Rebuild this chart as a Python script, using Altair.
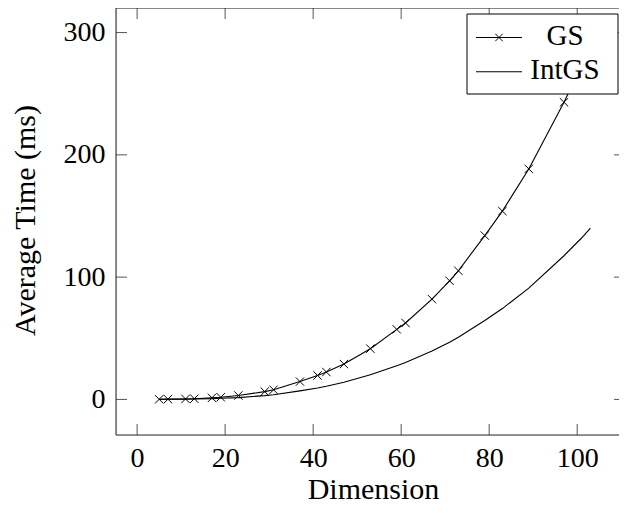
import altair as alt
import pandas as pd

# ---- data ----
dims = [5, 7, 11, 13, 17, 19, 23, 29, 31, 37, 41, 43, 47, 53, 59, 61, 67, 71, 73,
        79, 83, 89, 97, 101, 103]
gs_ms = [0.1, 0.2, 0.4, 0.6, 1.3, 1.8, 3.2, 6.4, 7.9, 14.6, 19.6, 22.4, 28.9, 41.5,
         57.3, 62.5, 82.0, 97.0, 105.2, 134.0, 154.0, 188.5, 243.0, 273.0, 291.0]
intgs_ms = [0.05, 0.1, 0.2, 0.3, 0.6, 0.9, 1.5, 3.1, 3.8, 7.0, 9.4, 10.8, 14.0, 20.1,
            27.6, 30.2, 39.6, 46.8, 50.8, 64.5, 74.3, 91.0, 117.5, 132.0, 140.0]
series_names = ["GS", "IntGS"]
x_ticks = [0, 20, 40, 60, 80, 100]
y_ticks = [0, 100, 200, 300]
x_title = "Dimension"
y_title = "Average Time (ms)"

# ---- layout / style ----
W, H = 503, 427
FONT = "Liberation Serif"
TICK = 11
MARK = "M-1,-1L1,1M-1,1L1,-1"

df_gs = pd.DataFrame({"dim": dims, "time": gs_ms})
df_int = pd.DataFrame({"dim": dims, "time": intgs_ms})
df_xt = pd.DataFrame({"t": x_ticks})
df_yt = pd.DataFrame({"t": y_ticks})
one = pd.DataFrame({"k": [0]})

xs = alt.Scale(domain=[-4.8, 109.5], nice=False, zero=False)
ys = alt.Scale(domain=[-29.1, 320.1], nice=False, zero=False)

xaxis = alt.Axis(values=x_ticks, ticks=False, domain=False, grid=False, format="d",
                 labelFont=FONT, labelFontSize=28, labelColor="black", labelPadding=9,
                 labelFlush=False, labelOverlap=False,
                 title=x_title, titleFont=FONT, titleFontSize=30, titleFontWeight="normal",
                 titleColor="black", titleBaseline="alphabetic", titleX=257, titleY=63,
                 titleAnchor="middle", titleAlign="center")
yaxis = alt.Axis(values=y_ticks, ticks=False, domain=False, grid=False, format="d",
                 labelFont=FONT, labelFontSize=28, labelColor="black", labelPadding=11,
                 labelFlush=False, labelOverlap=False,
                 title=y_title, titleFont=FONT, titleFontSize=30, titleFontWeight="normal",
                 titleColor="black", titleBaseline="alphabetic", titleAngle=270,
                 titleX=-82, titleY=212, titleAnchor="middle", titleAlign="center")

X = lambda f: alt.X(f, scale=xs, axis=xaxis)
Y = lambda f: alt.Y(f, scale=ys, axis=yaxis)

gs_line = alt.Chart(df_gs).mark_line(color="black", strokeWidth=1.1).encode(
    x=X("dim:Q"), y=Y("time:Q"))
gs_pts = alt.Chart(df_gs).mark_point(shape=MARK, size=70, filled=False, color="black",
                                     strokeWidth=1, opacity=1).encode(
    x=X("dim:Q"), y=Y("time:Q"))
int_line = alt.Chart(df_int).mark_line(color="black", strokeWidth=1.1).encode(
    x=X("dim:Q"), y=Y("time:Q"))

tick_style = dict(color="#555555", strokeWidth=1)
xt_bottom = alt.Chart(df_xt).mark_rule(**tick_style).encode(
    x=X("t:Q"), y=alt.value(H), y2=alt.value(H - TICK))
xt_top = alt.Chart(df_xt).mark_rule(**tick_style).encode(
    x=X("t:Q"), y=alt.value(0), y2=alt.value(TICK))
yt_left = alt.Chart(df_yt).mark_rule(**tick_style).encode(
    y=Y("t:Q"), x=alt.value(0), x2=alt.value(TICK))
yt_right = alt.Chart(df_yt).mark_rule(**tick_style).encode(
    y=Y("t:Q"), x=alt.value(W - 5), x2=alt.value(W))

frame_style = dict(color="#333333", strokeWidth=1.1)
fr_left = alt.Chart(one).mark_rule(**frame_style).encode(
    x=alt.value(0), y=alt.value(0), y2=alt.value(H))
fr_top = alt.Chart(one).mark_rule(**frame_style).encode(
    x=alt.value(0), x2=alt.value(W + 2), y=alt.value(0))
fr_bottom = alt.Chart(one).mark_rule(**frame_style).encode(
    x=alt.value(0), x2=alt.value(W + 2), y=alt.value(H))

# ---- legend (drawn by hand, pgfplots style) ----
LX = -6
leg_box = alt.Chart(one).mark_rect(fill="white", stroke="black", strokeWidth=1).encode(
    x=alt.value(357 + LX), x2=alt.value(508 + LX), y=alt.value(6), y2=alt.value(86))
leg_l1 = alt.Chart(one).mark_rule(color="black", strokeWidth=1.1).encode(
    x=alt.value(366 + LX), x2=alt.value(412 + LX), y=alt.value(29.5))
leg_p1 = alt.Chart(one).mark_point(shape=MARK, size=55, filled=False, color="black",
                                   strokeWidth=1, opacity=1).encode(
    x=alt.value(389 + LX), y=alt.value(29.5))
leg_l2 = alt.Chart(one).mark_rule(color="black", strokeWidth=1.1).encode(
    x=alt.value(366 + LX), x2=alt.value(412 + LX), y=alt.value(63.7))
leg_t1 = alt.Chart(pd.DataFrame({"s": [series_names[0]]})).mark_text(
    font=FONT, fontSize=29, color="black", align="center", baseline="alphabetic").encode(
    text="s:N", x=alt.value(455 + LX), y=alt.value(36.5))
leg_t2 = alt.Chart(pd.DataFrame({"s": [series_names[1]]})).mark_text(
    font=FONT, fontSize=29, color="black", align="center", baseline="alphabetic").encode(
    text="s:N", x=alt.value(455 + LX), y=alt.value(71))

chart = alt.layer(
    xt_bottom, xt_top, yt_left, yt_right,
    int_line, gs_line, gs_pts,
    fr_left, fr_top, fr_bottom,
    leg_box, leg_l1, leg_p1, leg_l2, leg_t1, leg_t2,
).properties(
    width=W, height=H,
    autosize=alt.AutoSizeParams(type="none"),
    padding={"left": 108, "top": 0, "right": 0, "bottom": 70},
).configure_view(stroke=None).configure(background="white")

chart.save("out.html", embed_options={"renderer": "svg", "actions": False})
